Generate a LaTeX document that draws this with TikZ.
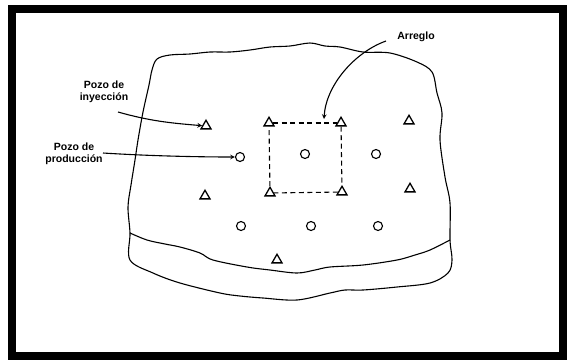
\documentclass[tikz,border=0pt]{standalone}
\usepackage{fontspec}
\setmainfont{Liberation Sans}
\usetikzlibrary{shapes.geometric}
\begin{document}
\begin{tikzpicture}[x=1pt, y=-1pt, >=stealth,
  injwell/.style={draw, regular polygon, regular polygon sides=3, inner sep=0pt, minimum size=11.5pt, line width=1.3pt},
  prodwell/.style={draw, circle, inner sep=0pt, minimum size=9pt, line width=1.1pt},
  lbl/.style={align=center, font=\fontsize{10.5}{11.5}\selectfont\bfseries, inner sep=1pt},
  edge/.style={line width=1.1pt, line join=round}]
\useasboundingbox (0,0) rectangle (567,360);
% frame
\draw[line width=8pt] (12,9) rectangle (563,356);
% field outline
\draw[edge] plot[smooth cycle, tension=0.55] coordinates {
  (130,260) (130,233) (128,207) (131,185) (135,160) (138,140) (143,112)
  (149,85) (152,70) (157,59) (170,55) (190,54) (210,52) (230,52) (250,50)
  (270,47) (290,46) (310,43) (325,46) (340,47) (363,52) (390,53) (417,62)
  (432,72) (437,93) (442,113) (440,140) (445,177) (450,203) (450,240)
  (452,260) (448,273) (430,283) (397,287) (363,290) (345,290) (330,293)
  (297,300) (263,298) (240,296) (220,293) (180,283) (153,273)};
\draw[edge] plot[smooth, tension=0.55] coordinates {
  (130,233) (147,240) (165,244) (180,247) (200,253) (213,260) (247,267)
  (270,270) (297,273) (315,270) (330,267) (363,265) (397,260) (415,255)
  (430,250) (450,240)};
% wells
\node[injwell] (i1) at (206,126) {};
\node[injwell] (i2) at (269,123) {};
\node[injwell] (i3) at (341,123) {};
\node[injwell] (i4) at (409,121) {};
\node[prodwell] (p1) at (240,157) {};
\node[prodwell] (p2) at (305,154) {};
\node[prodwell] (p3) at (376,154) {};
\node[injwell] (i5) at (205,196) {};
\node[injwell] (i6) at (270,193) {};
\node[injwell] (i7) at (342,192) {};
\node[injwell] (i8) at (410,189) {};
\node[prodwell] (p4) at (241,226) {};
\node[prodwell] (p5) at (311,226) {};
\node[prodwell] (p6) at (378,226) {};
\node[injwell] (i9) at (277,260) {};
% pattern
\draw[dashed, line width=1.1pt, dash pattern=on 5pt off 3.5pt] (i2) -- (i3);
\draw[dashed, line width=1.1pt, dash pattern=on 5pt off 3.5pt] (i3) -- (i7);
\draw[dashed, line width=1.1pt, dash pattern=on 5pt off 3.5pt] (i7) -- (i6);
\draw[dashed, line width=1.1pt, dash pattern=on 5pt off 3.5pt] (i6) -- (i2);
% labels
\node[lbl] (inj) at (104,92) {Pozo de\\inyección};
\node[lbl] (prod) at (74,154) {Pozo de\\producción};
\node[lbl] (arr) at (416,37) {Arreglo};
\coordinate (injtail) at (118,112);
\coordinate (prodtail) at (103,153);
\coordinate (arrtail) at (386,41);
\coordinate (arrtip) at (324,119);
\draw[->, edge] (injtail) .. controls (150,121) and (170,123) .. (i1);
\draw[->, edge] (prodtail) .. controls (150,156) and (200,157) .. (p1);
\draw[->, edge] (arrtail) .. controls (355,52) and (326,85) .. (arrtip);
\end{tikzpicture}
\end{document}
